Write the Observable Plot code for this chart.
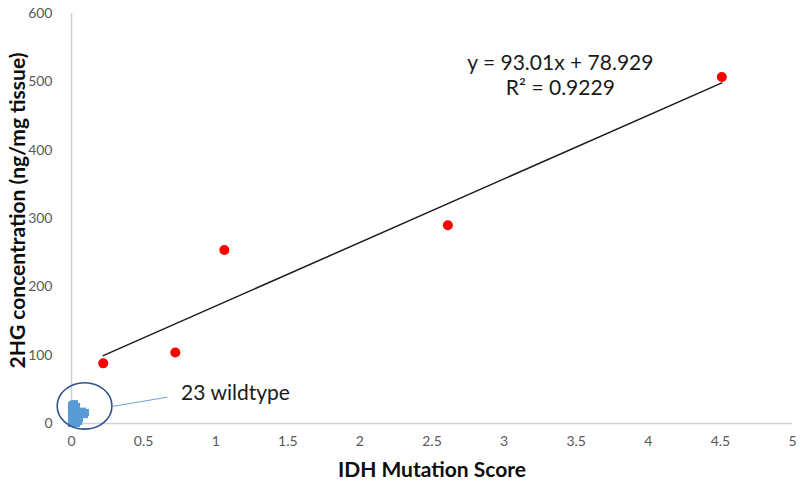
<!DOCTYPE html>
<html>
<head>
<meta charset="utf-8">
<script src="https://cdn.jsdelivr.net/npm/d3@7"></script>
<script src="https://cdn.jsdelivr.net/npm/@observablehq/plot@0.6"></script>
<style>
  html, body { margin: 0; padding: 0; background: #fff; }
  #chart svg { font-family: Lato, "Open Sans", sans-serif; }
</style>
</head>
<body>
<div id="chart"></div>
<script>
// IDH-mutant samples (IDH Mutation Score, 2HG ng/mg tissue)
const mutantScore = [0.22, 0.72, 1.06, 2.61, 4.51];
const mutant2HG = [88, 104, 254, 290, 507];

// 23 wildtype samples clustered near the origin
const wildScore = [0, 0.014, 0, 0.007, 0.007, 0.02, 0.014, 0.02, 0.028, 0.049, 0.062, 0.055, 0.049, 0.097, 0.09, 0, 0.028, 0, 0.035, 0.021, 0.007, 0.076, 0.035];
const wild2HG   = [26, 22, 16, 10, 4, 1.5, 13, 26, 19, 16, 15, 7, 3, 16, 13, 7, 7, 0, 0, 29, 28, 18, 25];

// Linear trend fitted in the source: y = 93.01x + 78.929
const trendSlope = 93.01;
const trendIntercept = 78.929;
const trendX = [0.22, 4.51];

const xTicks = [0, 0.5, 1, 1.5, 2, 2.5, 3, 3.5, 4, 4.5, 5];
const yTicks = [0, 100, 200, 300, 400, 500, 600];

const equationLines = ["y = 93.01x + 78.929", "R² = 0.9229"];
const equationX = [3.39, 3.39];
const equationY = [527, 490];

const wildLabel = "23 wildtype";
const wildLabelX = 0.76;
const wildLabelY = 44;
// circle around wildtype cluster (center, radii in data units)
const ringX = 0.094, ringY = 25, ringRX = 0.19, ringRY = 34;
const leaderX1 = 0.284, leaderY1 = 25, leaderX2 = 0.665, leaderY2 = 38.5;

const xTitle = "IDH Mutation Score";
const yTitle = "2HG concentration (ng/mg tissue)";

const mutant = mutantScore.map((x, i) => ({x, y: mutant2HG[i]}));
const wild = wildScore.map((x, i) => ({x, y: wild2HG[i]}));
const trend = trendX.map(x => ({x, y: trendSlope * x + trendIntercept}));
const equation = equationLines.map((t, i) => ({t, x: equationX[i], y: equationY[i]}));

const ring = (index, scales) => {
  const cx = scales.x(ringX), cy = scales.y(ringY);
  const rx = Math.abs(scales.x(ringX + ringRX) - cx);
  const ry = Math.abs(scales.y(ringY + ringRY) - cy);
  const g = d3.create("svg:g");
  g.append("ellipse")
    .attr("cx", cx).attr("cy", cy).attr("rx", rx).attr("ry", ry)
    .attr("fill", "none").attr("stroke", "#2f528f").attr("stroke-width", 1.6);
  return g.node();
};

const chart = Plot.plot({
  width: 800,
  height: 486,
  marginLeft: 71,
  marginRight: 8,
  marginTop: 13,
  marginBottom: 63,
  style: {fontFamily: "Lato, 'Open Sans', sans-serif", background: "#fff"},
  x: {domain: [0, 5], ticks: xTicks, tickFormat: d => String(d), label: null},
  y: {domain: [0, 600], ticks: yTicks, tickFormat: d => String(d), label: null},
  marks: [
    Plot.axisX({ticks: xTicks, tickSize: 0, tickPadding: 13, fontSize: 14, color: "#595959", label: null, tickFormat: d => String(d)}),
    Plot.axisY({ticks: yTicks, tickSize: 0, tickPadding: 19, fontSize: 14, color: "#595959", label: null, tickFormat: d => String(d)}),
    Plot.ruleY([0], {stroke: "#d0d0d0", strokeWidth: 1.5}),
    Plot.ruleX([0], {stroke: "#d0d0d0", strokeWidth: 1.5}),
    Plot.line(trend, {x: "x", y: "y", stroke: "#1a1a1a", strokeWidth: 1.5}),
    Plot.dot(wild, {x: "x", y: "y", symbol: "square", r: 4, fill: "#5b9bd5", stroke: "none"}),
    Plot.dot(mutant, {x: "x", y: "y", r: 5, fill: "#ff0000", stroke: "none"}),
    ring,
    Plot.link([0], {x1: () => leaderX1, y1: () => leaderY1, x2: () => leaderX2, y2: () => leaderY2, stroke: "#6fa0d8", strokeWidth: 1}),
    Plot.text([wildLabel], {x: () => wildLabelX, y: () => wildLabelY, text: d => d, textAnchor: "start", fontSize: 21, fill: "#1a1a1a"}),
    Plot.text(equation, {x: "x", y: "y", text: "t", fontSize: 21, fill: "#1a1a1a"}),
    Plot.text([xTitle], {frameAnchor: "bottom", dy: 47, lineAnchor: "middle", text: d => d, fontSize: 21, fontWeight: "bold", fill: "#0d0d0d"}),
    Plot.text([yTitle], {frameAnchor: "left", dx: -53, dy: -8, rotate: -90, textAnchor: "middle", lineAnchor: "middle", text: d => d, fontSize: 21, fontWeight: "bold", fill: "#0d0d0d"})
  ]
});

document.getElementById("chart").appendChild(chart);
</script>
</body>
</html>
